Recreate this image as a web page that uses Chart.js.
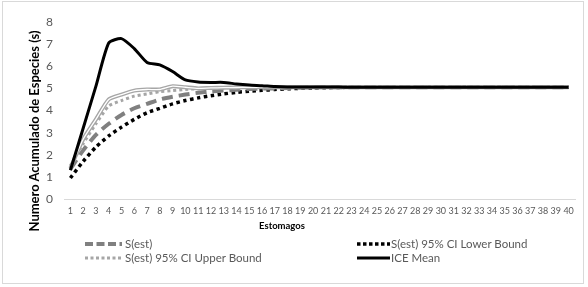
<!DOCTYPE html>
<html>
<head>
<meta charset="utf-8">
<script src="https://cdn.jsdelivr.net/npm/chart.js@4/dist/chart.umd.min.js"></script>
<style>
  html, body { margin: 0; padding: 0; background: #fff; }
  #wrap { position: relative; width: 588px; height: 287px; overflow: hidden; }
  #frame { position: absolute; left: 2px; top: 1px; width: 582px; height: 283px; border: 1px solid #d9d9d9; box-sizing: border-box; pointer-events: none; }
  canvas { position: absolute; left: 0; top: 0; }
  .leg { position: absolute; font-family: Lato, "Noto Sans", sans-serif; font-size: 11.5px; color: #595959; white-space: nowrap; line-height: 14px; }
  .leg svg { position: absolute; top: 0; left: 0; }
  #ytitle { position: absolute; left: 34px; top: 131px; transform: translate(-50%, -50%) rotate(-90deg); font-family: Lato, "Noto Sans", sans-serif; font-weight: bold; font-size: 13px; color: #000; white-space: nowrap; }
  #xtitle { position: absolute; left: 282px; top: 225px; transform: translate(-50%, -50%); font-family: Lato, "Noto Sans", sans-serif; font-weight: bold; font-size: 9.5px; color: #000; white-space: nowrap; }
</style>
</head>
<body>
<div id="wrap">
  <canvas id="c" width="588" height="287"></canvas>
  <div id="frame"></div>
  <div id="ytitle"></div>
  <div id="xtitle"></div>
  <div id="legend"></div>
</div>
<script>
const categories = ["1","2","3","4","5","6","7","8","9","10","11","12","13","14","15","16","17","18","19","20","21","22","23","24","25","26","27","28","29","30","31","32","33","34","35","36","37","38","39","40"];
const sEst =       [1.35,2.2,2.9,3.4,3.8,4.1,4.3,4.5,4.62,4.72,4.8,4.86,4.9,4.94,4.97,4.99,5.0,5.02,5.03,5.04,5.05,5.05,5.05,5.05,5.05,5.05,5.05,5.05,5.05,5.05,5.05,5.05,5.05,5.05,5.05,5.05,5.05,5.05,5.05,5.05];
const lowerBound = [0.95,1.7,2.35,2.85,3.25,3.6,3.9,4.1,4.3,4.45,4.57,4.67,4.75,4.82,4.87,4.91,4.95,4.98,5.0,5.02,5.03,5.04,5.05,5.05,5.05,5.05,5.05,5.05,5.05,5.05,5.05,5.05,5.05,5.05,5.05,5.05,5.05,5.05,5.05,5.05];
const upperBound = [1.5,2.5,3.4,4.2,4.45,4.65,4.75,4.85,4.9,4.95,4.98,5.0,5.02,5.03,5.04,5.05,5.05,5.05,5.05,5.05,5.05,5.05,5.05,5.05,5.05,5.05,5.05,5.05,5.05,5.05,5.05,5.05,5.05,5.05,5.05,5.05,5.05,5.05,5.05,5.05];
const sObs =       [1.4,2.7,3.6,4.5,4.72,4.9,4.95,4.95,5.1,5.05,5.0,5.02,5.03,5.04,5.05,5.05,5.05,5.05,5.05,5.05,5.05,5.05,5.05,5.05,5.05,5.05,5.05,5.05,5.05,5.05,5.05,5.05,5.05,5.05,5.05,5.05,5.05,5.05,5.05,5.05];
const iceMean =    [1.3,3.2,5.1,7.05,7.25,6.8,6.17,6.06,5.76,5.38,5.29,5.27,5.27,5.2,5.15,5.12,5.08,5.06,5.06,5.06,5.06,5.06,5.05,5.05,5.05,5.05,5.05,5.05,5.05,5.05,5.05,5.05,5.05,5.05,5.05,5.05,5.05,5.05,5.05,5.05];
const yTicks = [0,1,2,3,4,5,6,7,8];
const seriesNames = ["S(est)", "S(est) 95% CI Lower Bound", "S(est) 95% CI Upper Bound", "ICE Mean"];
const yTitle = "Numero Acumulado de Especies (s)";
const xTitle = "Estomagos";

const FONT = 'Lato, "Noto Sans", sans-serif';
const base = { pointRadius: 0, fill: false, tension: 0.2, borderCapStyle: 'butt' };

document.getElementById('ytitle').textContent = yTitle;
document.getElementById('xtitle').textContent = xTitle;

new Chart(document.getElementById('c'), {
  type: 'line',
  data: {
    labels: categories,
    datasets: [
      Object.assign({}, base, { label: seriesNames[1], data: lowerBound, borderColor: '#000', borderWidth: 3.5, borderDash: [3.5, 3.5], order: 6 }),
      Object.assign({}, base, { label: seriesNames[0], data: sEst, borderColor: '#808080', borderWidth: 4, borderDash: [11, 6], order: 5 }),
      Object.assign({}, base, { label: seriesNames[2], data: upperBound, borderColor: '#a6a6a6', borderWidth: 3, borderDash: [3, 3], order: 4 }),
      Object.assign({}, base, { label: 'outer', data: sObs, borderColor: '#a6a6a6', borderWidth: 4, order: 3 }),
      Object.assign({}, base, { label: 'inner', data: sObs, borderColor: '#ffffff', borderWidth: 1.3, order: 2 }),
      Object.assign({}, base, { label: seriesNames[3], data: iceMean, borderColor: '#000', borderWidth: 3, order: 1 })
    ]
  },
  options: {
    responsive: false,
    animation: false,
    devicePixelRatio: 1,
    layout: { padding: { left: 0, top: 22, right: 13, bottom: 48 } },
    plugins: { legend: { display: false }, tooltip: { enabled: false } },
    scales: {
      x: {
        offset: true,
        grid: { display: false, drawTicks: false, offset: true },
        border: { display: true, color: '#d9d9d9', width: 1 },
        ticks: { color: '#595959', font: { family: FONT, size: 9 }, padding: 7, maxRotation: 0, autoSkip: false },
        afterFit: s => { s.height = 40; }
      },
      y: {
        min: 0, max: 8,
        afterBuildTicks: s => { s.ticks = yTicks.map(v => ({ value: v })); },
        grid: { display: false, drawTicks: false },
        border: { display: false },
        ticks: { color: '#595959', font: { family: FONT, size: 12 }, padding: 11 },
        afterFit: s => { s.width = 64; }
      }
    }
  }
});

// HTML legend (two columns)
const legendItems = [
  { name: seriesNames[0], x: 85, y: 237, sw: 37, tx: 40, color: '#808080', w: 4, dash: '8,3.5' },
  { name: seriesNames[1], x: 357, y: 237, sw: 33, tx: 34, color: '#000', w: 3.5, dash: '3.5,2.5' },
  { name: seriesNames[2], x: 85, y: 251, sw: 37, tx: 40, color: '#a6a6a6', w: 3, dash: '3,2.5' },
  { name: seriesNames[3], x: 357, y: 251, sw: 33, tx: 34, color: '#000', w: 3, dash: '' }
];
const legEl = document.getElementById('legend');
legendItems.forEach(it => {
  const d = document.createElement('div');
  d.className = 'leg';
  d.style.left = it.x + 'px';
  d.style.top = it.y + 'px';
  d.style.paddingLeft = it.tx + 'px';
  d.innerHTML = '<svg width="' + it.sw + '" height="14"><line x1="0" y1="7" x2="' + it.sw + '" y2="7" stroke="' + it.color +
    '" stroke-width="' + it.w + '"' + (it.dash ? ' stroke-dasharray="' + it.dash + '"' : '') + '/></svg>';
  d.appendChild(document.createTextNode(it.name));
  legEl.appendChild(d);
});
</script>
</body>
</html>
